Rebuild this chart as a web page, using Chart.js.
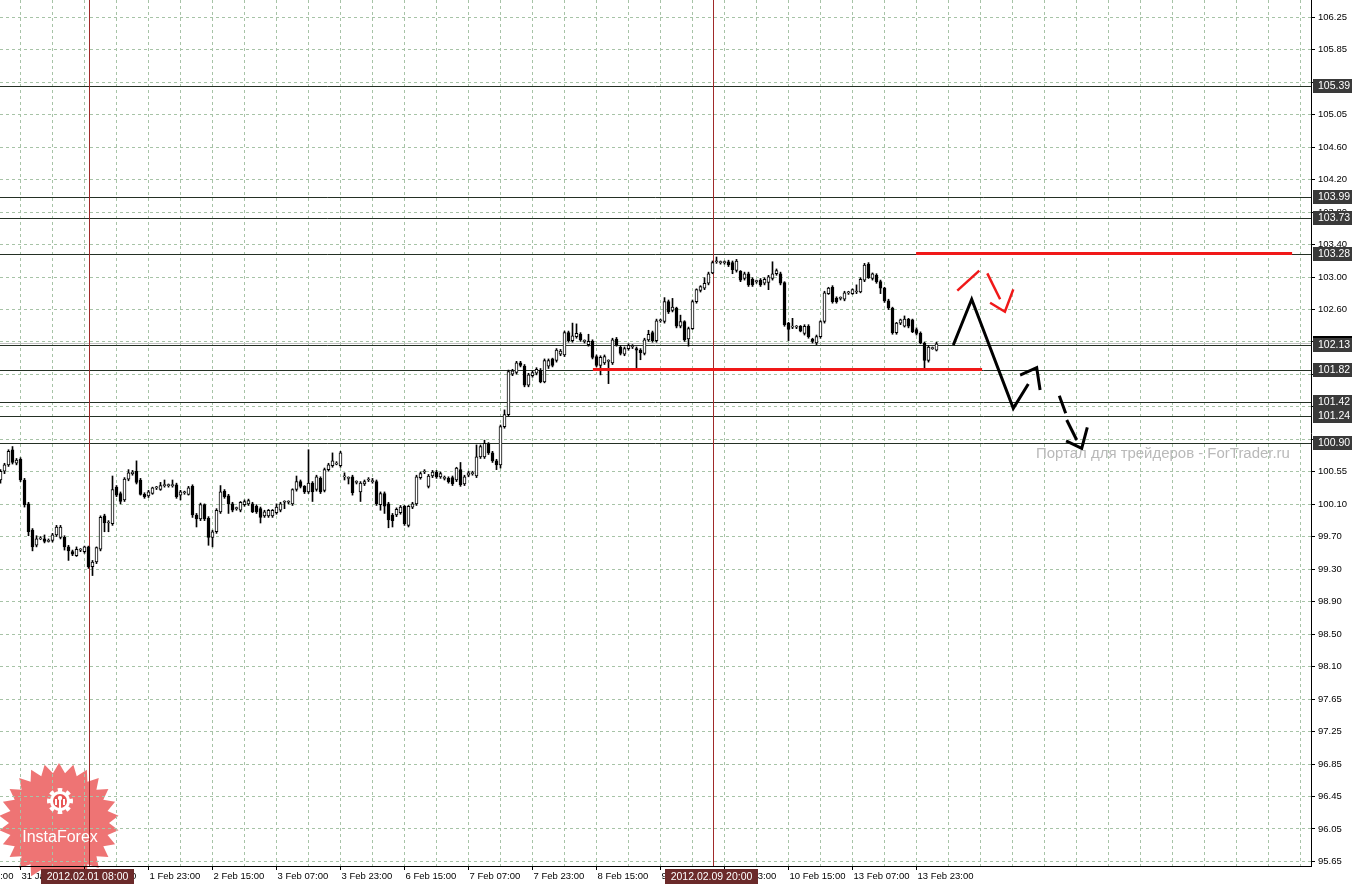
<!DOCTYPE html>
<html>
<head>
<meta charset="utf-8">
<title>H1 chart</title>
<script src="https://cdn.jsdelivr.net/npm/chart.js@4.4.1/dist/chart.umd.min.js"></script>
<style>
  html, body { margin: 0; padding: 0; background: #fff; }
  canvas { display: block; }
</style>
</head>
<body>
<canvas id="chart" width="1352" height="884"></canvas>
<script>
// candle 0 = 31 Jan 10:00, one candle per hour (trading hours only)
const opens = [
  100.44,100.55,100.63,100.82,100.65,100.70,100.44,100.14,99.81,99.62,
  99.70,99.70,99.67,99.68,99.75,99.72,99.72,99.60,99.54,99.49,
  99.56,99.54,99.60,99.35,99.41,99.57,99.99,99.90,99.89,100.35,
  100.27,100.19,100.45,100.52,100.55,100.44,100.26,100.24,100.27,100.34,
  100.32,100.37,100.37,100.37,100.38,100.25,100.28,100.26,100.36,100.00,
  99.95,100.13,99.96,99.72,99.79,100.04,100.30,100.24,100.14,100.08,
  100.06,100.13,100.14,100.14,100.11,100.08,99.99,99.99,99.99,100.03,
  100.06,100.16,100.16,100.14,100.32,100.42,100.36,100.29,100.40,100.32,
  100.46,100.31,100.57,100.62,100.64,100.62,100.48,100.46,100.48,100.41,
  100.29,100.39,100.44,100.42,100.42,100.13,100.27,100.14,100.00,100.00,
  100.03,100.11,99.87,100.10,100.14,100.47,100.54,100.36,100.49,100.54,
  100.48,100.46,100.46,100.47,100.44,100.57,100.39,100.50,100.52,100.49,
  100.73,100.73,100.89,100.78,100.68,100.63,101.11,101.26,101.77,101.79,
  101.91,101.87,101.63,101.75,101.78,101.82,101.67,101.87,101.96,101.94,
  102.02,102.01,102.29,102.19,102.24,102.27,102.18,102.14,102.18,101.99,
  101.88,101.91,101.93,101.91,102.21,102.11,102.02,102.09,102.11,102.09,
  102.07,102.03,102.20,102.29,102.19,102.44,102.43,102.68,102.57,102.60,
  102.37,102.43,102.21,102.34,102.68,102.82,102.85,102.91,103.04,103.18,
  103.17,103.17,103.18,103.17,103.07,103.06,102.97,103.03,102.96,102.93,
  102.95,102.91,102.92,102.97,103.03,103.03,102.92,102.41,102.36,102.36,
  102.37,102.28,102.37,102.21,102.16,102.24,102.43,102.78,102.86,102.72,
  102.72,102.71,102.79,102.78,102.80,102.80,102.95,103.15,102.97,103.01,
  102.93,102.85,102.69,102.60,102.29,102.41,102.37,102.46,102.45,102.33,
  102.28,102.16,101.94,102.09,102.07
];
const highs = [
  100.57,100.65,100.82,100.86,100.71,100.72,100.46,100.16,99.83,99.74,
  99.73,99.75,99.70,99.77,99.87,99.87,99.74,99.62,99.56,99.60,
  99.58,99.61,99.61,99.43,99.60,99.99,100.01,99.93,100.49,100.37,
  100.29,100.47,100.57,100.56,100.68,100.46,100.28,100.31,100.35,100.36,
  100.41,100.44,100.39,100.44,100.40,100.31,100.30,100.36,100.38,100.02,
  100.15,100.14,99.98,99.81,100.08,100.37,100.32,100.26,100.16,100.10,
  100.17,100.19,100.20,100.16,100.13,100.10,100.06,100.07,100.07,100.14,
  100.16,100.18,100.18,100.33,100.49,100.44,100.37,100.82,100.42,100.50,
  100.48,100.59,100.65,100.78,100.67,100.80,100.53,100.48,100.50,100.43,
  100.42,100.44,100.47,100.46,100.44,100.29,100.29,100.16,100.02,100.09,
  100.12,100.12,100.12,100.16,100.50,100.54,100.57,100.51,100.56,100.56,
  100.54,100.49,100.48,100.49,100.60,100.66,100.50,100.55,100.55,100.88,
  100.88,100.94,100.91,100.80,100.70,101.13,101.32,101.82,101.83,101.93,
  101.93,101.89,101.78,101.81,101.85,101.84,101.96,101.96,101.97,102.09,
  102.08,102.31,102.31,102.41,102.40,102.29,102.20,102.27,102.20,102.01,
  102.00,102.01,101.95,102.22,102.23,102.13,102.11,102.15,102.14,102.11,
  102.09,102.22,102.32,102.31,102.46,102.46,102.73,102.70,102.72,102.61,
  102.51,102.44,102.36,102.70,102.84,102.88,102.98,103.05,103.19,103.24,
  103.19,103.19,103.20,103.19,103.21,103.07,103.05,103.05,102.98,102.95,
  102.97,102.98,103.01,103.18,103.09,103.05,102.93,102.42,102.47,102.38,
  102.38,102.39,102.39,102.22,102.26,102.44,102.81,102.86,102.88,102.74,
  102.74,102.81,102.81,102.84,102.89,102.98,103.16,103.17,103.04,103.03,
  102.95,102.86,102.71,102.61,102.42,102.46,102.50,102.47,102.46,102.35,
  102.30,102.17,102.13,102.11,102.17
];
const lows = [
  100.40,100.52,100.61,100.64,100.63,100.42,100.10,99.74,99.55,99.60,
  99.69,99.65,99.66,99.66,99.73,99.70,99.56,99.43,99.49,99.48,
  99.54,99.52,99.33,99.24,99.39,99.55,99.79,99.79,99.87,100.23,
  100.14,100.17,100.43,100.50,100.39,100.25,100.21,100.22,100.26,100.32,
  100.31,100.35,100.35,100.35,100.21,100.19,100.26,100.25,99.97,99.85,
  99.93,99.93,99.62,99.60,99.77,100.02,100.21,100.02,100.04,100.06,
  100.04,100.11,100.12,100.03,100.02,99.90,99.97,99.97,99.97,100.01,
  100.04,100.08,100.14,100.12,100.30,100.34,100.27,100.27,100.17,100.30,
  100.27,100.29,100.55,100.60,100.63,100.60,100.44,100.39,100.25,100.39,
  100.17,100.37,100.42,100.40,100.12,100.06,100.02,99.84,99.85,99.98,
  100.01,99.87,99.85,100.08,100.12,100.45,100.52,100.34,100.47,100.46,
  100.46,100.44,100.40,100.37,100.42,100.36,100.37,100.48,100.50,100.47,
  100.71,100.71,100.76,100.66,100.57,100.59,101.09,101.24,101.75,101.77,
  101.86,101.61,101.61,101.73,101.76,101.66,101.66,101.84,101.86,101.92,
  102.00,101.99,102.17,102.17,102.22,102.18,102.16,102.12,101.96,101.86,
  101.76,101.89,101.65,101.89,102.12,102.01,102.00,102.07,102.09,101.84,
  101.95,102.01,102.18,102.17,102.17,102.42,102.41,102.53,102.55,102.35,
  102.35,102.18,102.12,102.33,102.66,102.80,102.83,102.89,103.03,103.16,
  103.15,103.15,103.12,103.03,103.05,102.93,102.95,102.87,102.87,102.91,
  102.87,102.89,102.83,102.95,103.01,102.89,102.37,102.19,102.34,102.34,
  102.30,102.26,102.22,102.16,102.14,102.22,102.41,102.77,102.66,102.66,
  102.70,102.69,102.77,102.77,102.78,102.79,102.93,102.97,102.95,102.91,
  102.78,102.67,102.58,102.27,102.27,102.39,102.36,102.35,102.29,102.26,
  102.15,101.85,101.92,102.08,102.06
];
const closes = [
  100.55,100.63,100.80,100.66,100.69,100.44,100.13,99.79,99.60,99.70,
  99.71,99.67,99.68,99.75,99.85,99.85,99.60,99.55,99.51,99.57,
  99.56,99.60,99.35,99.41,99.59,99.97,99.90,99.90,100.32,100.25,
  100.17,100.45,100.53,100.54,100.41,100.26,100.23,100.29,100.34,100.34,
  100.37,100.37,100.37,100.37,100.23,100.29,100.28,100.34,100.00,99.95,
  100.13,99.95,99.72,99.79,100.06,100.29,100.23,100.14,100.06,100.08,
  100.16,100.17,100.18,100.04,100.04,99.97,100.04,100.06,100.06,100.10,
  100.14,100.16,100.16,100.32,100.42,100.36,100.29,100.40,100.29,100.48,
  100.29,100.57,100.63,100.68,100.64,100.78,100.48,100.46,100.28,100.41,
  100.40,100.42,100.44,100.42,100.14,100.27,100.11,99.94,99.93,100.07,
  100.10,99.89,100.11,100.14,100.48,100.52,100.54,100.49,100.54,100.48,
  100.52,100.46,100.42,100.39,100.59,100.38,100.48,100.53,100.52,100.73,
  100.86,100.90,100.78,100.68,100.63,101.11,101.26,101.80,101.81,101.91,
  101.88,101.63,101.76,101.79,101.83,101.67,101.94,101.94,101.88,102.07,
  102.06,102.29,102.19,102.25,102.28,102.20,102.18,102.18,101.98,101.88,
  101.98,101.99,101.93,102.20,102.14,102.03,102.09,102.13,102.11,102.07,
  102.04,102.20,102.27,102.19,102.44,102.44,102.68,102.55,102.61,102.37,
  102.43,102.20,102.34,102.68,102.83,102.87,102.91,103.03,103.17,103.18,
  103.17,103.17,103.14,103.08,103.19,102.95,103.03,102.89,102.89,102.93,
  102.89,102.96,102.99,103.03,103.07,102.91,102.39,102.33,102.36,102.36,
  102.31,102.37,102.24,102.18,102.24,102.43,102.79,102.85,102.68,102.68,
  102.72,102.79,102.79,102.83,102.80,102.96,103.14,102.98,103.03,102.93,
  102.85,102.69,102.60,102.29,102.41,102.45,102.46,102.37,102.30,102.28,
  102.16,101.94,102.11,102.09,102.15
];

// axis labels
const yTickLabels = ["106.25","105.85","105.45","105.05","104.60","104.20","103.80","103.40","103.00",
  "102.60","102.15","101.75","101.35","100.95","100.55","100.10","99.70","99.30","98.90",
  "98.50","98.10","97.65","97.25","96.85","96.45","96.05","95.65"];
const yTickTop = 106.25, yTickBottom = 95.65;
// first entry sits left of the visible area, only its tail shows
const offLeftLabel = "30 Jan 23:00";
const offLeftIdx = -11;
const timeLabels = ["31 Jan 15:00","1 Feb 07:00","1 Feb 23:00","2 Feb 15:00","3 Feb 07:00",
  "3 Feb 23:00","6 Feb 15:00","7 Feb 07:00","7 Feb 23:00","8 Feb 15:00","9 Feb 07:00",
  "9 Feb 23:00","10 Feb 15:00","13 Feb 07:00","13 Feb 23:00"];
const firstLabelIdx = 5;

// horizontal levels (thin lines + boxes on the price axis)
const levels = [105.39, 103.99, 103.73, 103.28, 102.13, 101.82, 101.42, 101.24, 100.90];
const bidPrice = 102.16;
const bidLabel = "102.17";

// vertical markers
const vLineIdx = [22, 178];
const vLineLabels = ["2012.02.01 08:00", "2012.02.09 20:00"];

// red support / resistance lines
const redLinePrices = [103.28, 101.82];
const redLineFrom = [228.9, 148.1];
const redLineTo = [322.9, 245.4];

// hand-drawn forecast arrows, [candle index, price]
const blackPath = [[238.2, 102.135], [242.8, 102.709], [253.2, 101.34], [256.95, 101.645]];
const blackHead = [[254.9, 101.758], [259.05, 101.85], [259.9, 101.57]];
const dashedSegs = [
  [[264.7, 101.498], [266.3, 101.278]],
  [[266.55, 101.193], [269.05, 100.942]]
];
const dashedHead = [[266.4, 100.93], [270.3, 100.838], [271.7, 101.102]];
const redSegs = [
  [[239.2, 102.817], [244.7, 103.068]],
  [[246.7, 103.035], [249.9, 102.709]],
  [[247.4, 102.666], [251.1, 102.553], [253.2, 102.834]]
];

const watermark = "Портал для трейдеров - ForTrader.ru";

const gridColor = "#a7c3a7";
const xMin = -0.125;
const xMax = xMin + 1311 / 4;
const yMax = 106.467;
const yMin = 95.593;
const tickFont = "9.5px 'Liberation Sans', Arial, sans-serif";

Chart.defaults.font.family = "'Liberation Sans', Arial, sans-serif";
Chart.defaults.font.size = 9.5;
Chart.defaults.color = "#000";

function polyline(c, chart, pts) {
  const xs = chart.scales.x, ys = chart.scales.y;
  c.beginPath();
  pts.forEach(([i, p], k) => {
    const x = xs.getPixelForValue(i), y = ys.getPixelForValue(p);
    if (k === 0) c.moveTo(x, y); else c.lineTo(x, y);
  });
  c.stroke();
}

function drawStar(c) {
  const cx = 59, cy = 823, rOut = 60, rIn = 50, n = 26;
  c.beginPath();
  for (let k = 0; k < n * 2; k++) {
    const r = k % 2 === 0 ? rOut : rIn;
    const a = -Math.PI / 2 + (k * Math.PI) / n;
    const x = cx + r * Math.cos(a), y = cy + r * Math.sin(a);
    if (k === 0) c.moveTo(x, y); else c.lineTo(x, y);
  }
  c.closePath();
  c.fillStyle = "rgba(232,70,70,0.75)";
  c.fill();
}

function drawLogoText(c) {
  // gear icon
  const gx = 60, gy = 801;
  c.fillStyle = "#fff";
  c.beginPath();
  for (let k = 0; k < 16; k++) {
    const r = k % 2 === 0 ? 13 : 10;
    const a0 = (k * Math.PI) / 8 - Math.PI / 16, a1 = a0 + Math.PI / 8;
    c.arc(gx, gy, r, a0, a1);
  }
  c.closePath();
  c.fill();
  c.fillStyle = "rgba(232,85,85,1)";
  c.beginPath(); c.arc(gx, gy, 7, 0, Math.PI * 2); c.fill();
  c.fillStyle = "#fff";
  c.beginPath(); c.arc(gx, gy - 3, 2.2, 0, Math.PI * 2); c.fill();
  c.fillRect(gx - 1, gy - 1, 2, 8);
  c.fillRect(gx - 5, gy - 2, 2, 6);
  c.fillRect(gx + 3, gy - 2, 2, 6);

  c.font = "16px 'Liberation Sans', Arial, sans-serif";
  c.textAlign = "center";
  c.textBaseline = "alphabetic";
  c.fillText("InstaForex", 60, 842);
}

const overlay = {
  id: "overlay",
  beforeDraw(chart) {
    const c = chart.ctx;
    c.save();
    c.fillStyle = "#fff";
    c.fillRect(0, 0, chart.width, chart.height);
    drawStar(c);
    c.restore();
  },
  beforeDatasetsDraw(chart) {
    const c = chart.ctx, a = chart.chartArea;
    const xs = chart.scales.x, ys = chart.scales.y;
    c.save();
    // tail of the time label that starts left of the canvas
    c.font = tickFont;
    c.fillStyle = "#000";
    c.textAlign = "left";
    c.textBaseline = "middle";
    c.fillText(offLeftLabel, xs.getPixelForValue(offLeftIdx) + 2, 876);

    c.lineWidth = 1;
    // bid line
    c.strokeStyle = "#c0c0c0";
    let y = Math.round(ys.getPixelForValue(bidPrice)) + 0.5;
    c.beginPath(); c.moveTo(a.left, y); c.lineTo(a.right, y); c.stroke();
    // levels
    c.strokeStyle = "#243024";
    levels.forEach(p => {
      const yy = Math.round(ys.getPixelForValue(p)) + 0.5;
      c.beginPath(); c.moveTo(a.left, yy); c.lineTo(a.right, yy); c.stroke();
    });
    // vertical markers
    c.strokeStyle = "#a02a2a";
    vLineIdx.forEach(i => {
      const x = Math.round(xs.getPixelForValue(i)) + 0.5;
      c.beginPath(); c.moveTo(x, a.top); c.lineTo(x, a.bottom); c.stroke();
    });
    c.restore();
  },
  afterDatasetsDraw(chart) {
    const c = chart.ctx;
    const xs = chart.scales.x, ys = chart.scales.y;
    c.save();
    // red horizontal lines
    c.strokeStyle = "#f01818";
    c.lineWidth = 3;
    redLinePrices.forEach((p, k) => {
      const y = Math.round(ys.getPixelForValue(p)) - 0.5;
      c.beginPath();
      c.moveTo(xs.getPixelForValue(redLineFrom[k]), y);
      c.lineTo(xs.getPixelForValue(redLineTo[k]), y);
      c.stroke();
    });
    // forecast arrows
    c.lineJoin = "miter";
    c.lineCap = "butt";
    c.strokeStyle = "#000";
    c.lineWidth = 3;
    polyline(c, chart, blackPath);
    polyline(c, chart, blackHead);
    dashedSegs.forEach(s => polyline(c, chart, s));
    polyline(c, chart, dashedHead);
    c.strokeStyle = "#f01818";
    c.lineWidth = 2.5;
    redSegs.forEach(s => polyline(c, chart, s));

    // watermark
    c.fillStyle = "#b9b9b9";
    c.font = "15px 'Liberation Sans', Arial, sans-serif";
    const w = c.measureText(watermark).width;
    const size = 15 * 254 / w;
    c.font = size.toFixed(2) + "px 'Liberation Sans', Arial, sans-serif";
    c.textAlign = "left";
    c.textBaseline = "alphabetic";
    c.fillText(watermark, 1036, 458);

    drawLogoText(c);
    c.restore();
  },
  afterDraw(chart) {
    const c = chart.ctx;
    const xs = chart.scales.x, ys = chart.scales.y;
    c.save();
    c.font = "10.5px 'Liberation Sans', Arial, sans-serif";
    c.textBaseline = "middle";
    c.textAlign = "left";
    // bid box
    let y = Math.round(ys.getPixelForValue(bidPrice));
    c.fillStyle = "#000";
    c.fillRect(1313, y - 7, 39, 14);
    c.fillStyle = "#fff";
    c.fillText(bidLabel, 1318, y + 0.5);
    // level boxes
    levels.forEach(p => {
      const yy = Math.round(ys.getPixelForValue(p));
      c.fillStyle = "#3a3a3a";
      c.fillRect(1313, yy - 7, 39, 14);
      c.fillStyle = "#fff";
      c.fillText(p.toFixed(2), 1318, yy + 0.5);
    });
    // date boxes for vertical markers
    c.textAlign = "center";
    vLineIdx.forEach((i, k) => {
      const x = Math.round(xs.getPixelForValue(i));
      c.fillStyle = "#6b2a2a";
      c.fillRect(x - 48, 869, 93, 15);
      c.fillStyle = "#fff";
      c.fillText(vLineLabels[k], x - 1.5, 877);
    });
    c.restore();
  }
};

const gridIdx = [];
for (let v = firstLabelIdx; v <= xMax; v += 8) gridIdx.push(v);

function timeLabelFor(v) {
  const k = (v - firstLabelIdx) / 16;
  if (Number.isInteger(k) && k < timeLabels.length) return timeLabels[k];
  return "";
}

new Chart(document.getElementById("chart"), {
  type: "bar",
  data: {
    datasets: [
      {
        label: "body",
        data: opens.map((o, i) => ({ x: i, y: [o, closes[i]] })),
        backgroundColor: opens.map((o, i) => (closes[i] >= o ? "#fff" : "#000")),
        borderColor: "#000",
        borderWidth: 1,
        borderSkipped: false,
        barThickness: 3,
        minBarLength: 1,
        grouped: false,
        order: 0
      },
      {
        label: "wick",
        data: lows.map((l, i) => ({ x: i, y: [l, highs[i]] })),
        backgroundColor: "#000",
        borderWidth: 0,
        barThickness: 1,
        grouped: false,
        order: 1
      }
    ]
  },
  options: {
    responsive: false,
    animation: false,
    devicePixelRatio: 1,
    layout: { padding: 0 },
    plugins: { legend: { display: false }, tooltip: { enabled: false } },
    scales: {
      x: {
        type: "linear",
        min: xMin,
        max: xMax,
        bounds: "data",
        offset: false,
        grid: {
          offset: false,
          color: gridColor,
          lineWidth: 1,
          tickLength: 4,
          tickBorderDash: [],
          tickColor: ctx => (ctx.tick && ctx.tick.label ? "#000" : "rgba(0,0,0,0)")
        },
        border: { display: true, color: "#000", width: 1, dash: [3, 3] },
        ticks: {
          align: "start",
          labelOffset: 1,
          padding: 1,
          maxRotation: 0,
          autoSkip: false,
          color: "#000",
          callback: v => timeLabelFor(v)
        },
        afterBuildTicks: s => { s.ticks = gridIdx.map(v => ({ value: v })); },
        afterFit: s => { s.height = 18; s.paddingLeft = 0; s.paddingRight = 0; }
      },
      y: {
        type: "linear",
        position: "right",
        min: yMin,
        max: yMax,
        bounds: "data",
        beginAtZero: false,
        grid: { color: gridColor, lineWidth: 1, tickLength: 4, tickColor: "#000", tickBorderDash: [] },
        border: { display: true, color: "#000", width: 1, dash: [3, 3] },
        ticks: {
          padding: 3,
          color: "#000",
          autoSkip: false,
          callback: (v, i) => yTickLabels[i]
        },
        afterBuildTicks: s => {
          const step = (yTickTop - yTickBottom) / (yTickLabels.length - 1);
          s.ticks = yTickLabels.map((t, k) => ({ value: yTickTop - k * step }));
        },
        afterFit: s => { s.width = 41; s.paddingTop = 0; s.paddingBottom = 0; }
      }
    }
  },
  plugins: [overlay]
});
</script>
</body>
</html>
